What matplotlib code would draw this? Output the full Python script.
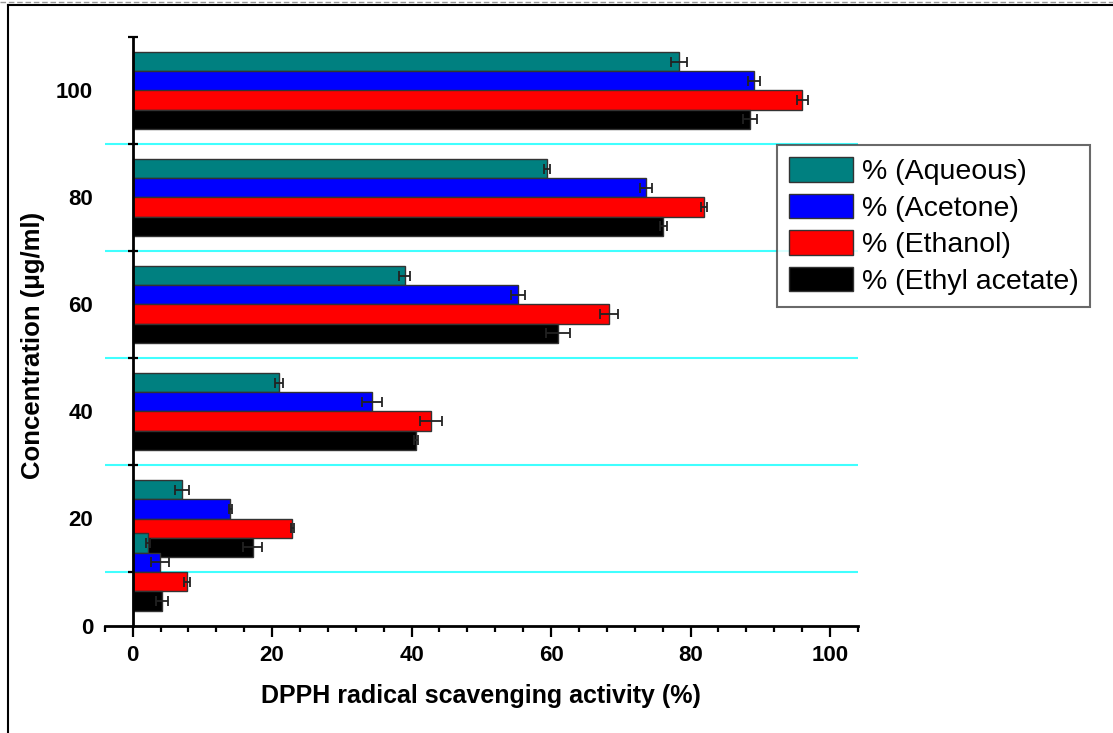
import numpy as np
import matplotlib
matplotlib.use('Agg')
import matplotlib.pyplot as plt
from matplotlib.ticker import MultipleLocator, FixedLocator
from matplotlib.lines import Line2D

plt.rcParams['font.family'] = ['Liberation Sans', 'DejaVu Sans']

# ── Data ──────────────────────────────────────────────────────────────────
concentrations = [10, 20, 40, 60, 80, 100]
series_names = ['% (Aqueous)', '% (Acetone)', '% (Ethanol)', '% (Ethyl acetate)']
series_colors = ['#008080', '#0000FF', '#FF0000', '#000000']

aqueous = [2.2, 7.1, 21.0, 39.0, 59.4, 78.3]
aqueous_err = [0.3, 0.95, 0.6, 0.8, 0.4, 1.15]
acetone = [3.9, 14.0, 34.3, 55.2, 73.6, 89.1]
acetone_err = [1.3, 0.2, 1.45, 1.0, 0.9, 0.8]
ethanol = [7.8, 22.9, 42.8, 68.3, 81.9, 96.0]
ethanol_err = [0.5, 0.25, 1.6, 1.25, 0.4, 0.8]
ethyl_acetate = [4.2, 17.2, 40.6, 61.0, 76.1, 88.5]
ethyl_acetate_err = [0.9, 1.4, 0.25, 1.7, 0.5, 0.95]

x_ticks = [0, 20, 40, 60, 80, 100]
y_ticks = [0, 20, 40, 60, 80, 100]
y_separators = [10, 30, 50, 70, 90, 110]

values = [aqueous, acetone, ethanol, ethyl_acetate]
errors = [aqueous_err, acetone_err, ethanol_err, ethyl_acetate_err]

# ── Figure ────────────────────────────────────────────────────────────────
W, H = 1113, 733
fig = plt.figure(figsize=(W / 100, H / 100), dpi=100)
ax = fig.add_axes([104.7 / W, 1 - 625.5 / H, (858 - 104.7) / W, (625.5 - 37) / H])

bar_h = 3.6
offsets = [1.5 * bar_h, 0.5 * bar_h, -0.5 * bar_h, -1.5 * bar_h]

# cyan separators behind the bars
ax.hlines(y_separators[:-1], -4, 104, colors='#40FFFF', linewidth=1.5, zorder=0)

# draw group by group from the top so the 10 ug/ml group sits on top
for gi in reversed(range(len(concentrations))):
    for si in range(len(series_names)):
        ax.barh(concentrations[gi] + offsets[si], values[si][gi], height=bar_h,
                xerr=errors[si][gi], color=series_colors[si], edgecolor='#333333',
                linewidth=1.0, label=series_names[si] if gi == 0 else None,
                error_kw=dict(ecolor='#222222', elinewidth=1.3, capsize=3.6,
                              capthick=1.3), zorder=2)

ax.set_xlim(-4, 104)
ax.set_ylim(0, 110)

# Origin-like axes: only left (at x=0) and bottom
for side in ['top', 'right']:
    ax.spines[side].set_visible(False)
ax.spines['left'].set_position(('data', 0))
ax.spines['left'].set_linewidth(2.0)
ax.spines['bottom'].set_linewidth(2.0)

ax.xaxis.set_major_locator(FixedLocator(x_ticks))
ax.xaxis.set_minor_locator(MultipleLocator(4))
ax.tick_params(axis='x', which='major', direction='out', length=8, width=1.6,
               labelsize=16, pad=6)
ax.tick_params(axis='x', which='minor', direction='out', length=4.5, width=1.6)

ax.yaxis.set_major_locator(FixedLocator(y_ticks))
ax.yaxis.set_minor_locator(FixedLocator(y_separators))
ax.tick_params(axis='y', which='major', length=0, labelsize=16, pad=28.5)
ax.tick_params(axis='y', which='minor', direction='inout', length=7, width=1.6)

for lbl in ax.get_xticklabels() + ax.get_yticklabels():
    lbl.set_fontweight('bold')

ax.set_xlabel('DPPH radical scavenging activity (%)', fontsize=18, fontweight='bold')
ax.set_ylabel('Concentration (\u03bcg/ml)', fontsize=18.5, fontweight='bold')
ax.xaxis.set_label_coords(0.5, -0.1)
ax.yaxis.set_label_coords(-0.0793, 0.4766)

leg = ax.legend(loc='upper left', bbox_to_anchor=(777 / W, 1 - 145 / H),
                bbox_transform=fig.transFigure, borderaxespad=0, fontsize=20.5,
                frameon=True, fancybox=False, edgecolor='#444444',
                handlelength=2.25, handleheight=0.95, handletextpad=0.3,
                labelspacing=0.3, borderpad=0.42)
leg.get_frame().set_linewidth(1.5)
leg.set_zorder(5)

# figure border like the exported picture
fig.add_artist(Line2D([0, 1], [1 - 1.5 / H, 1 - 1.5 / H], transform=fig.transFigure,
                      color='#999999', linewidth=1.0, linestyle=(0, (4, 2))))
fig.add_artist(Line2D([8 / W, 1], [1 - 5 / H, 1 - 5 / H], transform=fig.transFigure,
                      color='black', linewidth=1.5))
fig.add_artist(Line2D([8 / W, 8 / W], [0, 1 - 5 / H], transform=fig.transFigure,
                      color='black', linewidth=1.5))

fig.savefig('out.png', dpi=100)
